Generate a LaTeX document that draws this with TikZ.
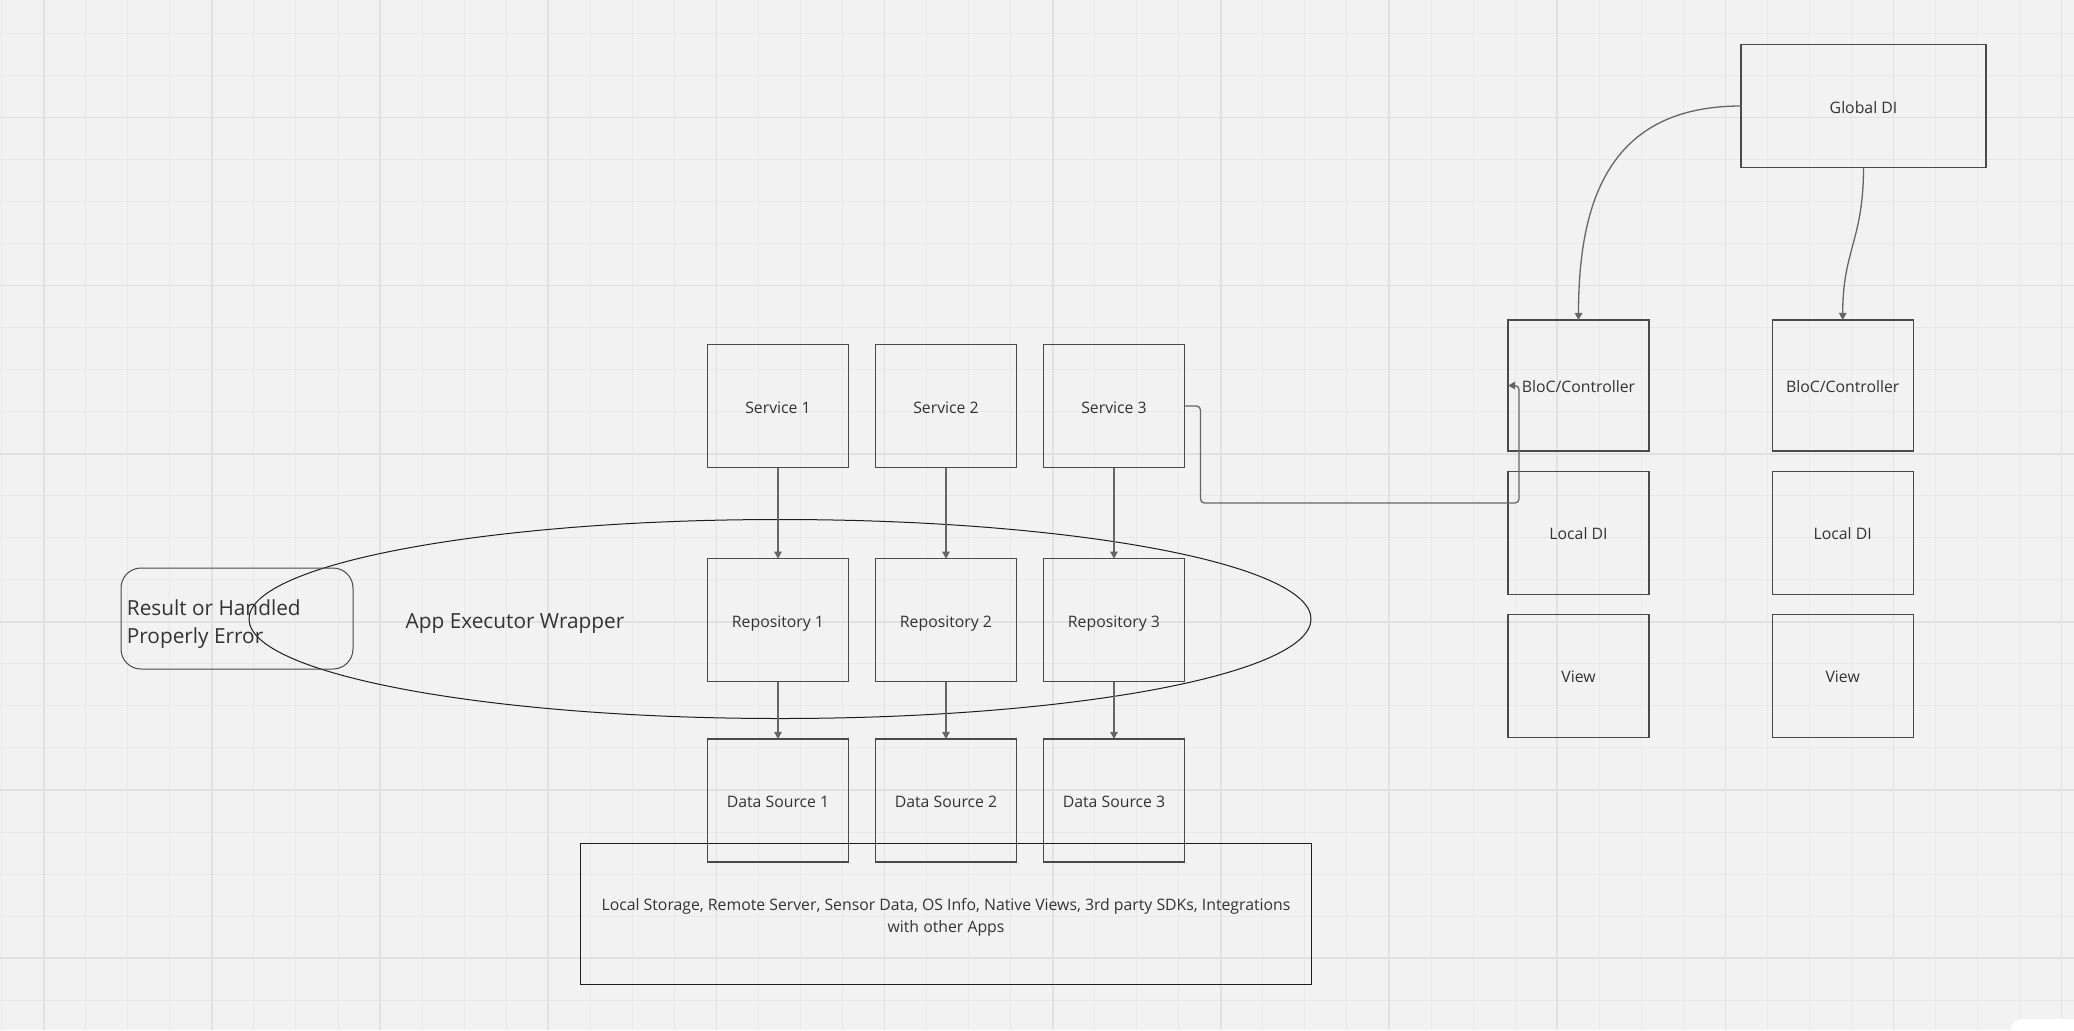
\documentclass[tikz,border=0pt]{standalone}
\usepackage{fontspec}
\setmainfont{Open Sans}
\usetikzlibrary{arrows.meta,shapes.geometric,calc}
\definecolor{bgc}{HTML}{F2F2F2}
\definecolor{gminor}{HTML}{E8E8E8}
\definecolor{gmajor}{HTML}{E1E1E1}
\definecolor{boxc}{HTML}{4A4A4A}
\definecolor{linec}{HTML}{1E1E1E}
\definecolor{connc}{HTML}{666666}
\definecolor{txtc}{HTML}{333333}
\tikzset{
  box/.style={draw=boxc, line width=0.6pt, inner sep=0pt, outer sep=0pt, text=txtc,
    font=\fontsize{7.9}{10}\selectfont},
  svc/.style={box, minimum width=70.5pt, minimum height=61.5pt, text height=7pt, text depth=0pt},
  bloc/.style={svc, minimum height=65.5pt},
  conn/.style={draw=connc, line width=0.65pt, -{Triangle[length=3.6pt,width=3.8pt]}},
  gridminor/.style={draw=gminor, line width=0.5pt},
  gridmajor/.style={draw=gmajor, line width=0.8pt},
  bigtext/.style={text=txtc, font=\fontsize{10.4}{14.3}\selectfont}
}
\begin{document}
\begin{tikzpicture}[x=0.5pt,y=-0.5pt]
\useasboundingbox (0,0) rectangle (2074,1030);
\fill[bgc] (0,0) rectangle (2074,1030);
% grid
\foreach \k in {0,...,49} {
  \pgfmathsetmacro\xx{1.7+42.04*\k}
  \draw[gridminor] (\xx,0) -- (\xx,1030);
}
\foreach \k in {0,...,23} {
  \pgfmathsetmacro\yy{33.3+42.04*\k}
  \draw[gridminor] (0,\yy) -- (2074,\yy);
}
\foreach \k in {1,5,...,49} {
  \pgfmathsetmacro\xx{1.7+42.04*\k}
  \draw[gridmajor] (\xx,0) -- (\xx,1030);
}
\foreach \k in {2,6,...,22} {
  \pgfmathsetmacro\yy{33.3+42.04*\k}
  \draw[gridmajor] (0,\yy) -- (2074,\yy);
}
% UI artifact bottom right
\begin{scope}
\clip (0,0) rectangle (2074,1030);
\fill[white, rounded corners=5pt] (2011,1019) rectangle (2100,1060);
\end{scope}

% services
\node[svc] (s1) at (778,406) {Service 1};
\node[svc] (s2) at (946,406) {Service 2};
\node[svc] (s3) at (1114,406) {Service 3};
% repositories
\node[svc] (r1) at (778,620.2) {Repository 1};
\node[svc] (r2) at (946,620.2) {Repository 2};
\node[svc] (r3) at (1114,620.2) {Repository 3};
% data sources
\node[svc] (d1) at (778,800.5) {Data Source 1};
\node[svc] (d2) at (946,800.5) {Data Source 2};
\node[svc] (d3) at (1114,800.5) {Data Source 3};
% bottom box
\node[box, draw=linec, line width=0.5pt, minimum width=365.5pt, minimum height=70.3pt] (ext) at (946,913.7) {};
\node[text=txtc, align=center, font=\fontsize{7.9}{10.85}\selectfont, inner sep=0pt] (exttxt) at (946,917.5)
  {Local Storage, Remote Server, Sensor Data, OS Info, Native Views, 3rd party SDKs, Integrations\\with other Apps};
% ellipse
\node[ellipse, draw=linec, line width=0.5pt, inner sep=0pt, minimum width=531pt, minimum height=99.5pt] (wrap) at (780,619) {};
\node[bigtext] (wraptxt) at (515,624) {App Executor Wrapper};
% result box
\node[draw=boxc, line width=0.5pt, rounded corners=10pt, minimum width=116pt, minimum height=50.5pt,
  inner sep=0pt, outer sep=0pt] (res) at (237,618.5) {};
\node[bigtext, align=left, anchor=west, inner sep=0pt] (restxt) at (126.5,624)
  {Result or Handled\\Properly Error};
% right side
\node[box, minimum width=122.5pt, minimum height=61.3pt, text height=7pt, text depth=0pt] (gdi) at (1863.5,106) {Global DI};
\node[bloc] (bloc1) at (1578.5,385.5) {BloC/Controller};
\node[bloc] (bloc2) at (1842.7,385.5) {BloC/Controller};
\node[svc] (ldi1) at (1578.5,532.8) {Local DI};
\node[svc] (ldi2) at (1842.7,532.8) {Local DI};
\node[svc] (v1) at (1578.5,675.8) {View};
\node[svc] (v2) at (1842.7,675.8) {View};

% connectors
\draw[conn] (s1) -- (r1);
\draw[conn] (s2) -- (r2);
\draw[conn] (s3) -- (r3);
\draw[conn] (r1) -- (d1);
\draw[conn] (r2) -- (d2);
\draw[conn] (r3) -- (d3);
\draw[conn, rounded corners=2pt] (s3.east) -- ++(16,0) -- ++(0,97) -| ([xshift=5.5pt]bloc1.west) -- (bloc1.west);
\draw[conn] (gdi.west) .. controls +(-131,0) and +(0,-120) .. (bloc1.north);
\draw[conn] (gdi.south) .. controls +(0,73) and +(0,-70) .. (bloc2.north);
\end{tikzpicture}
\end{document}
